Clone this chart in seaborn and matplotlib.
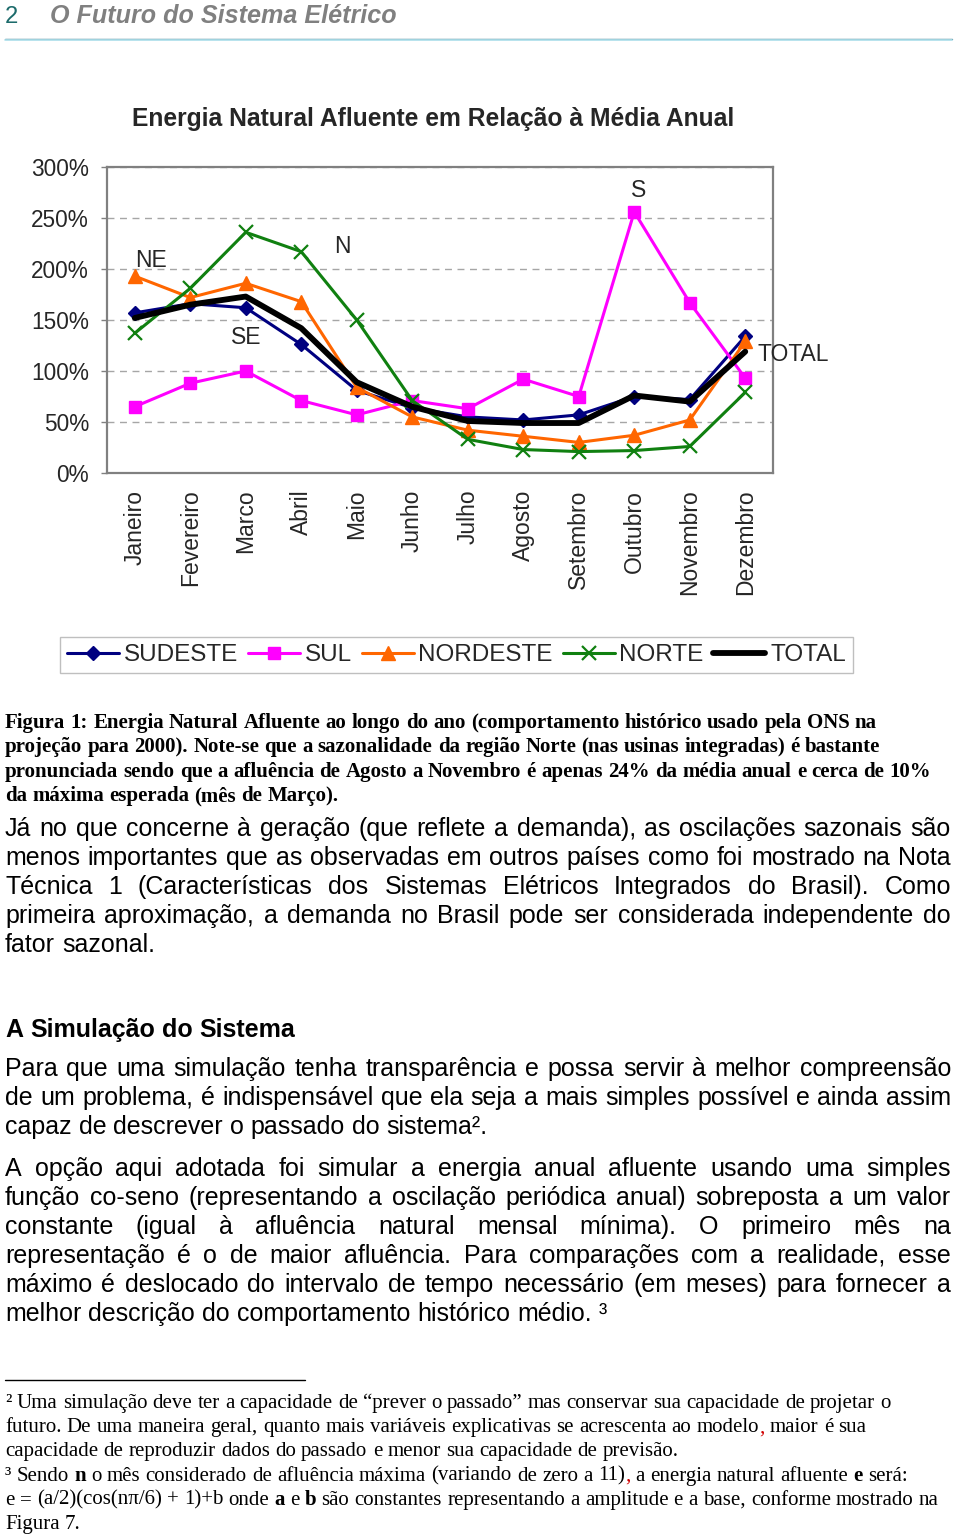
import matplotlib
matplotlib.use("Agg")
import matplotlib.pyplot as plt
import seaborn as sns
import pandas as pd
import numpy as np
from matplotlib.font_manager import FontProperties
from matplotlib.lines import Line2D
from matplotlib.ticker import FuncFormatter, FixedLocator

# ---------------- data ----------------
meses = ["Janeiro", "Fevereiro", "Marco", "Abril", "Maio", "Junho", "Julho",
         "Agosto", "Setembro", "Outubro", "Novembro", "Dezembro"]
sudeste = [157, 166, 162, 126, 81, 64, 55, 52, 57, 75, 72, 134]
sul = [65, 88, 100, 71, 57, 71, 63, 92, 75, 256, 167, 93]
nordeste = [193, 172, 186, 168, 84, 55, 42, 36, 30, 37, 52, 129]
norte = [137, 181, 236, 217, 150, 71, 33, 23, 21, 22, 26, 79]
total = [152, 165, 173, 142, 89, 65, 51, 49, 49, 76, 70, 119]
series_names = ["SUDESTE", "SUL", "NORDESTE", "NORTE", "TOTAL"]
y_ticks = [0, 50, 100, 150, 200, 250, 300]

titulo = "Energia Natural Afluente em Relação à Média Anual"
cabecalho_num = "2"
cabecalho = "O Futuro do Sistema Elétrico"

legenda_fig = [
    "Figura 1: Energia Natural Afluente ao longo do ano (comportamento histórico usado pela ONS na",
    "projeção para 2000). Note-se que a sazonalidade da região Norte (nas usinas integradas) é bastante",
    "pronunciada sendo que a afluência de Agosto a Novembro é apenas 24% da média anual e  cerca de 10%",
    "da máxima esperada (mês de Março).",
]
par1 = [
    "Já no que concerne à geração (que reflete a demanda), as oscilações sazonais são",
    "menos importantes que as observadas em outros países como foi mostrado na Nota",
    "Técnica 1 (Características dos Sistemas Elétricos Integrados do Brasil). Como",
    "primeira aproximação, a demanda no Brasil pode ser considerada independente do",
    "fator sazonal.",
]
secao = "A Simulação do Sistema"
par2 = [
    "Para que uma simulação tenha transparência e possa servir à melhor compreensão",
    "de um problema, é indispensável que ela seja a mais simples possível e ainda assim",
    "capaz de descrever o passado do sistema².",
]
par3 = [
    "A opção aqui adotada foi simular a energia anual afluente usando uma simples",
    "função co-seno (representando a oscilação periódica anual) sobreposta a um valor",
    "constante (igual à afluência natural mensal mínima). O primeiro mês na",
    "representação é o de maior afluência. Para comparações com a realidade, esse",
    "máximo é deslocado do intervalo de tempo necessário (em meses) para fornecer a",
    "melhor descrição do comportamento histórico médio. ³",
]
notas = [
    "² Uma simulação deve ter a capacidade de “prever o passado” mas conservar sua capacidade de projetar o",
    [("futuro. De uma maneira geral, quanto mais variáveis explicativas se acrescenta ao modelo", "n"),
     (",", "r"), (" maior é sua", "n")],
    "capacidade de reproduzir dados do passado e menor sua capacidade de previsão.",
    [("³ Sendo ", "n"), ("n", "b"), (" o mês considerado de afluência máxima (variando de zero a 11)", "n"),
     (",", "r"), (" a energia natural afluente ", "n"), ("e", "b"), (" será:", "n")],
    [("e = (a/2)(cos(nπ/6) + 1)+b onde ", "n"), ("a", "b"), (" e ", "n"), ("b", "b"),
     (" são constantes representando a amplitude e a base, conforme mostrado na", "n")],
    "Figura 7.",
]

# ---------------- setup ----------------
sns.set_style("white")
plt.rcParams["font.family"] = ["Liberation Sans", "DejaVu Sans"]

W, H = 960, 1539
fig = plt.figure(figsize=(W / 100, H / 100), dpi=100)
renderer = fig.canvas.get_renderer()
SANS = ["Liberation Sans", "DejaVu Sans"]
SERIF = ["Liberation Serif", "DejaVu Serif"]


def fpr(family, size, weight="normal", style="normal"):
    return FontProperties(family=family, size=size, weight=weight, style=style)


def measure(s, f):
    t = fig.text(0, 0, s, fontproperties=f)
    w = t.get_window_extent(renderer).width
    t.remove()
    return w


def tokenize(line):
    segs = line if isinstance(line, list) else [(line, "n")]
    toks = []
    prev_space = True
    for text, st in segs:
        parts = text.split(" ")
        for i, p in enumerate(parts):
            if p == "":
                continue
            glue = (i == 0 and len(toks) > 0 and not prev_space)
            toks.append((p, st, glue))
        prev_space = text.endswith(" ")
    return toks


def place_line(line, x0, y, family, size, base_weight="normal", x1=None, draw=True):
    toks = tokenize(line)
    props, widths = [], []
    for w, st, g in toks:
        weight = "bold" if st == "b" else base_weight
        f = fpr(family, size, weight)
        props.append((f, "#d00000" if st == "r" else "black"))
        widths.append(measure(w, f))
    f0 = fpr(family, size, base_weight)
    space = measure("n n", f0) - measure("nn", f0)
    ngaps = sum(1 for t in toks[1:] if not t[2])
    natural = sum(widths) + ngaps * space
    gap = space
    if x1 is not None and ngaps > 0:
        gap = (x1 - x0 - sum(widths)) / ngaps
    if draw:
        x = x0
        for i, ((w, st, g), (f, col), wd) in enumerate(zip(toks, props, widths)):
            if i > 0 and not g:
                x += gap
            fig.text(x / W, 1 - y / H, w, fontproperties=f, color=col,
                     ha="left", va="baseline")
            x += wd
    return natural


def fit_size(line, family, weight, target, base=10.0):
    nat = place_line(line, 0, 0, family, base, weight, draw=False)
    return base * target / nat


# ---------------- header ----------------
fh = fpr(SANS, 10, "bold", "italic")
hsize = 10 * 346 / measure(cabecalho, fh)
fig.text(5 / W, 1 - 23 / H, cabecalho_num, fontproperties=fpr(SANS, hsize * 0.95),
         color="#1c6b6b", ha="left", va="baseline")
fig.text(50 / W, 1 - 23 / H, cabecalho, fontproperties=fpr(SANS, hsize, "bold", "italic"),
         color="#808080", ha="left", va="baseline")
fig.add_artist(Line2D([5 / W, 952 / W], [1 - 38.5 / H, 1 - 38.5 / H], transform=fig.transFigure,
                      color="#3f7f90", lw=1.0))
fig.add_artist(Line2D([5 / W, 952 / W], [1 - 40 / H, 1 - 40 / H], transform=fig.transFigure,
                      color="#b3e3ee", lw=1.2))

# ---------------- chart ----------------
ft = fpr(SANS, 10, "bold")
tsize = 10 * 603 / measure(titulo, ft)
fig.text(433.5 / W, 1 - 126 / H, titulo, fontproperties=fpr(SANS, tsize, "bold"),
         ha="center", va="baseline")

ax = fig.add_axes([107 / W, 1 - 473 / H, 666 / W, 306 / H])
x_idx = np.arange(len(meses))
df = pd.DataFrame({"x": np.tile(x_idx, 5),
                   "valor": sudeste + sul + nordeste + norte + total,
                   "serie": np.repeat(series_names, len(meses))})

styles = {
    "SUDESTE": dict(color="#000080", marker="D", markersize=7, linewidth=2.2, mew=1),
    "SUL": dict(color="#ff00ff", marker="s", markersize=9, linewidth=2.2, mew=1),
    "NORDESTE": dict(color="#ff6600", marker="^", markersize=10, linewidth=2.2, mew=1),
    "NORTE": dict(color="#108010", marker="x", markersize=9.5, linewidth=2.2, mew=1.6),
    "TOTAL": dict(color="black", marker=None, linewidth=4.2),
}
for name in series_names:
    sub = df[df["serie"] == name]
    st = styles[name]
    kw = dict(color=st["color"], linewidth=st["linewidth"], label=name)
    if st["marker"]:
        kw.update(marker=st["marker"], markersize=st["markersize"],
                  markeredgecolor=st["color"], markerfacecolor=st["color"],
                  markeredgewidth=st["mew"])
    sns.lineplot(data=sub, x="x", y="valor", ax=ax, estimator=None, sort=False, **kw)

ax.set_xlim(-0.5, 11.5)
ax.set_ylim(0, 300)
ax.set_xlabel("")
ax.set_ylabel("")
ax.set_yticks(y_ticks)
ax.yaxis.set_major_formatter(FuncFormatter(lambda v, p: f"{v:.0f}%"))
ax.set_xticks(x_idx)
ax.set_xticklabels(meses, rotation=90)
ax.xaxis.set_minor_locator(FixedLocator(np.arange(-0.5, 12, 1)))
ax.tick_params(axis="x", which="major", length=0, pad=12, labelsize=16.5)
ax.tick_params(axis="x", which="minor", length=4, width=1, color="#808080", direction="out")
ax.tick_params(axis="y", which="major", length=4, width=1, color="#808080", direction="out",
               pad=9, labelsize=16.3, left=True)
ax.yaxis.grid(True, linestyle=(0, (5, 4)), color="#a6a6a6", lw=1)
ax.xaxis.grid(False)
ax.set_axisbelow(True)
for sp in ax.spines.values():
    sp.set_visible(True)
    sp.set_color("#808080")
    sp.set_linewidth(1.6)

ann = dict(fontsize=16.5, ha="center", va="center")
ax.text(0.29, 208, "NE", **ann)
ax.text(3.75, 222, "N", **ann)
ax.text(2.0, 133, "SE", **ann)
ax.text(9.08, 277, "S", **ann)
ax.text(11.22, 116, "TOTAL", fontsize=16.5, ha="left", va="center")

h, l = ax.get_legend_handles_labels()
if ax.get_legend() is not None:
    ax.get_legend().remove()
leg = ax.legend(h, l, loc="center", bbox_to_anchor=(456.5 / W, 1 - 655 / H),
                bbox_transform=fig.transFigure, ncol=5, frameon=True, fancybox=False,
                edgecolor="#bfbfbf", fontsize=17.5, handlelength=2.14, handletextpad=0.2,
                columnspacing=0.4, borderpad=0.3, framealpha=1, numpoints=1)
leg.get_frame().set_linewidth(1.0)

# ---------------- text blocks ----------------
# caption (bold serif)
csize = min(fit_size(ln, SERIF, "bold", w) for ln, w in
            [(legenda_fig[2], 937), (legenda_fig[0], 877), (legenda_fig[1], 882)])
for i, ln in enumerate(legenda_fig):
    place_line(ln, 5, 728 + 24.4 * i, SERIF, csize, "bold")

# body paragraphs (justified sans); size from the unjustified last lines
bsize = 0.5 * (fit_size("melhor descrição do comportamento histórico médio.", SANS, "normal", 588)
               + fit_size("capaz de descrever o passado do sistema", SANS, "normal", 471))
body_lines = [(par1, 836), (par2, 1076), (par3, 1176)]
for par, y0 in body_lines:
    for i, ln in enumerate(par):
        last = (i == len(par) - 1)
        place_line(ln, 5, y0 + 29 * i, SANS, bsize, x1=None if last else 951)

place_line(secao, 5, 1037, SANS, bsize, "bold")

# footnotes
fig.add_artist(Line2D([5 / W, 305 / W], [1 - 1380 / H, 1 - 1380 / H], transform=fig.transFigure,
                      color="black", lw=1.0))
nsize = min(fit_size(notas[4], SERIF, "normal", 936), fit_size(notas[3], SERIF, "normal", 903),
            fit_size(notas[0], SERIF, "normal", 885))
for i, ln in enumerate(notas):
    place_line(ln, 5, 1408 + 24.2 * i, SERIF, nsize)

fig.savefig("out.png", dpi=100, facecolor="white")
